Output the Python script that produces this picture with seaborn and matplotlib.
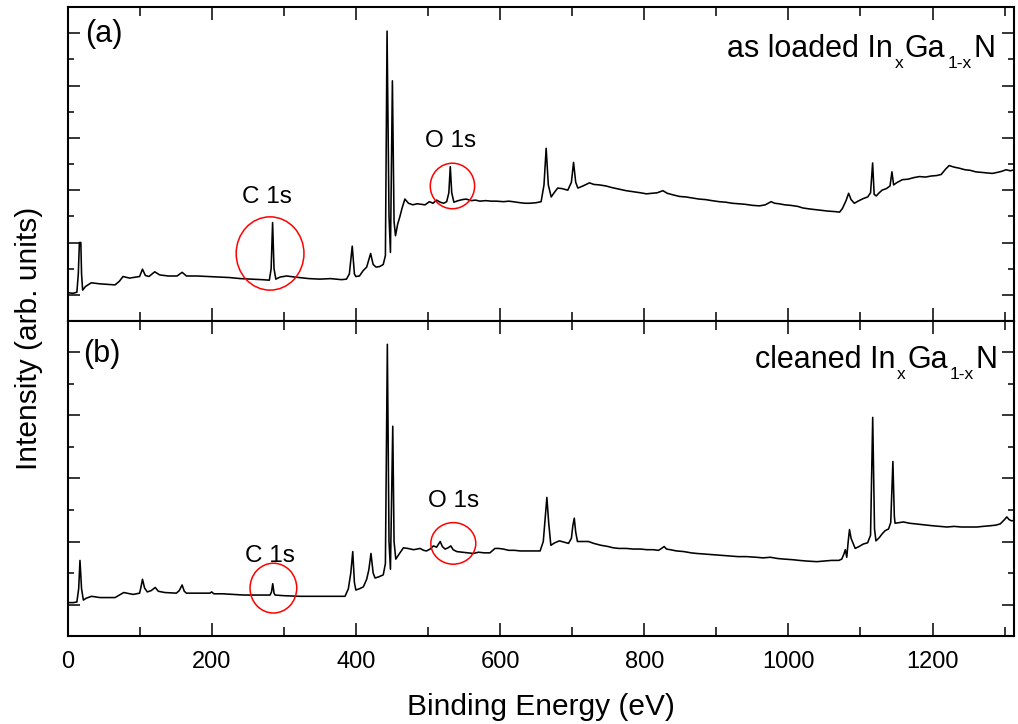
import matplotlib
matplotlib.use("Agg")
import matplotlib.pyplot as plt
import pandas as pd
import seaborn as sns
from matplotlib.patches import Ellipse
from matplotlib.ticker import MultipleLocator, NullFormatter

# ---- survey spectra (binding energy in eV, intensity in arb. units) ----
energy_a = [0, 8, 13, 15, 16.5, 18.5, 19.5, 21, 25, 33, 45, 55, 66, 72, 77, 86, 100, 104, 108, 113,
            121, 128, 140, 152, 159, 165, 180, 195, 210, 225, 240, 255, 270, 280, 282.5, 284.5, 286.5,
            289, 295, 304, 315, 322, 335, 350, 365, 380, 387, 391, 395, 398, 400, 405, 410, 415, 420.5,
            424, 428, 433, 438, 441, 443.3, 446, 448, 450.7, 453, 455, 458, 461, 464, 468, 473, 479,
            485, 490, 496, 502, 507, 512, 517, 522, 526, 529, 531, 533, 536, 542, 548, 553, 560, 566,
            572, 580, 588, 595, 605, 612, 618, 628, 635, 641, 650, 657, 661, 664, 667, 671, 675, 680,
            686, 694, 699, 702, 705, 708, 715, 724, 730, 738, 747, 755, 765, 775, 785, 795, 803, 810,
            818, 826, 832, 840, 849, 858, 867, 876, 885, 894, 904, 913, 922, 932, 940, 950, 960, 968,
            976, 981, 987, 995, 1003, 1013, 1020, 1030, 1043, 1055, 1065, 1071, 1075, 1080, 1083.6,
            1087, 1091.5, 1098, 1104, 1110, 1114, 1116.9, 1119, 1122, 1126, 1130, 1136, 1141, 1143.7,
            1146, 1150, 1158, 1166, 1174, 1182, 1190, 1198, 1206, 1212, 1218, 1223, 1230, 1237, 1245,
            1252, 1260, 1268, 1276, 1283, 1290, 1296, 1302, 1308, 1313]
intensity_a = [10.4, 10.3, 10.5, 14.0, 20.0, 20.0, 14.0, 10.9, 11.6, 12.3, 12.1, 12.0, 11.9, 12.6, 13.5,
               13.2, 13.5, 14.9, 13.7, 13.5, 14.4, 13.8, 13.6, 13.6, 14.3, 13.6, 13.6, 13.5, 13.4, 13.3,
               13.1, 13.0, 12.9, 12.8, 15.0, 23.8, 15.0, 13.0, 13.4, 13.6, 13.4, 13.3, 13.1, 13.0, 13.1,
               12.9, 13.0, 14.0, 19.3, 14.0, 13.5, 13.6, 14.6, 15.3, 17.9, 15.8, 15.3, 15.4, 15.8, 17.5,
               60.4, 25.0, 18.1, 50.9, 24.0, 21.3, 23.5, 24.9, 26.5, 28.3, 27.5, 27.2, 27.4, 27.3, 27.2,
               27.8, 27.5, 28.1, 27.7, 27.5, 27.8, 29.5, 34.5, 29.5, 27.7, 28.0, 28.2, 28.3, 28.0, 28.1,
               27.9, 28.0, 27.9, 27.9, 27.8, 27.9, 27.8, 27.6, 27.5, 27.5, 27.6, 27.8, 31.0, 38.0, 31.0,
               28.7, 29.5, 30.4, 30.3, 30.0, 31.5, 35.3, 31.5, 30.4, 30.8, 31.4, 31.1, 31.0, 30.8, 30.5,
               30.2, 29.9, 29.7, 29.5, 29.3, 29.4, 29.5, 29.9, 29.4, 29.1, 28.8, 28.7, 28.5, 28.3, 28.2,
               28.0, 27.8, 27.7, 27.5, 27.4, 27.3, 27.1, 27.0, 27.2, 27.8, 27.5, 27.4, 27.2, 27.1, 26.9,
               26.6, 26.4, 26.2, 26.0, 25.9, 25.8, 26.5, 28.0, 29.4, 28.2, 27.5, 28.0, 28.4, 28.7, 29.5,
               35.2, 29.2, 28.9, 29.5, 30.0, 30.3, 30.8, 33.5, 31.0, 31.4, 32.0, 32.1, 32.4, 32.6, 32.5,
               32.7, 32.8, 33.0, 34.0, 34.7, 34.4, 34.2, 33.9, 33.8, 33.5, 33.4, 33.3, 33.2, 33.4, 33.6,
               33.9, 33.7, 33.9]

energy_b = [0, 8, 13, 15.5, 17.3, 19.5, 22, 26, 33.5, 45, 55, 66, 72, 78, 91, 100, 102, 104, 107, 110.7,
            116, 121.7, 126, 135, 151, 155, 159, 162, 165, 180, 197.6, 200, 203, 215, 230, 245, 258,
            270, 281, 283, 284.7, 286.5, 288, 300, 322, 340, 360, 385, 389.6, 393, 395.7, 398, 400, 405,
            410.4, 415, 418, 421, 424, 426.7, 432, 438, 441, 443.7, 446, 448, 451.2, 453, 455.4, 460,
            466, 472, 480, 485, 489, 494, 498, 503, 507.6, 512, 517, 520, 523.8, 528, 531.7, 535, 540,
            548, 555, 563, 570, 578, 586, 590, 593, 598, 604.7, 612, 620, 628, 638, 648, 655.6, 660,
            662.5, 665, 667.5, 670.5, 676, 682.4, 689, 695, 699, 701, 703, 705, 707.4, 715, 722.6, 730,
            740, 750, 757, 765, 775, 785, 795, 803.7, 812, 820, 824, 827.7, 831, 836, 845, 855, 865, 873,
            885, 896, 908, 919, 930, 942, 955, 965, 975, 985, 995, 1007, 1015, 1025, 1039.5, 1050, 1060,
            1070, 1074, 1077, 1079, 1081, 1083, 1084.8, 1087, 1092.7, 1098, 1104, 1110, 1114, 1117,
            1119.5, 1121.5, 1126, 1130, 1134, 1139, 1142, 1145, 1147, 1148, 1154, 1159.7, 1168, 1176,
            1184, 1192, 1200, 1210, 1220, 1230, 1240, 1250, 1261.6, 1270, 1280, 1288, 1294, 1300, 1303,
            1306, 1309, 1313]
intensity_b = [10.3, 10.3, 10.4, 12.5, 17.0, 12.5, 10.7, 11.0, 11.3, 11.1, 11.1, 11.1, 11.5, 11.9, 11.6,
               11.8, 12.8, 14.0, 12.6, 12.0, 12.2, 12.7, 12.1, 11.9, 11.8, 12.2, 13.1, 12.1, 11.8, 11.8,
               11.8, 12.0, 11.7, 11.7, 11.6, 11.5, 11.5, 11.5, 11.5, 12.0, 13.3, 11.8, 11.5, 11.4, 11.3,
               11.3, 11.3, 11.3, 12.5, 15.0, 18.4, 13.5, 12.3, 12.5, 12.8, 14.0, 15.5, 18.1, 15.0, 14.2,
               14.4, 14.7, 16.5, 51.3, 20.0, 15.6, 38.3, 20.0, 17.2, 18.0, 19.0, 18.9, 18.7, 18.8, 18.9,
               18.6, 18.5, 18.8, 19.3, 19.1, 20.0, 19.2, 18.8, 19.0, 19.3, 18.7, 18.4, 18.3, 18.2, 18.1,
               18.3, 18.2, 18.2, 18.6, 18.9, 18.9, 18.8, 18.6, 18.6, 18.5, 18.5, 18.5, 18.5, 20.0, 23.5,
               27.0, 23.0, 19.4, 19.8, 20.1, 19.9, 19.7, 20.5, 22.5, 23.7, 21.5, 20.0, 20.0, 20.0, 19.7,
               19.4, 19.2, 19.0, 18.9, 18.9, 18.8, 18.8, 18.7, 18.7, 18.6, 18.9, 19.2, 18.8, 18.7, 18.5,
               18.4, 18.2, 18.1, 18.0, 17.9, 17.8, 17.7, 17.6, 17.6, 17.5, 17.4, 17.5, 17.3, 17.2, 17.1,
               17.0, 16.9, 16.8, 16.9, 17.0, 17.0, 17.2, 18.0, 18.7, 17.5, 20.0, 21.9, 20.5, 18.9, 19.2,
               19.6, 19.8, 21.0, 39.7, 22.0, 20.1, 20.6, 21.2, 21.7, 22.0, 23.0, 32.7, 24.0, 22.9, 23.0,
               23.1, 22.9, 22.8, 22.7, 22.6, 22.5, 22.4, 22.3, 22.4, 22.3, 22.3, 22.3, 22.4, 22.5, 22.6,
               22.8, 23.5, 23.9, 23.5, 23.3, 23.3]

panel_tags = ["(a)", "(b)"]
sample_names = ["as loaded ", "cleaned "]
peak_names = ["C 1s", "O 1s"]
x_ticks = [0, 200, 400, 600, 800, 1000, 1200]

# ---- style ----
sns.set_theme(style="ticks")
plt.rcParams.update({
    "font.family": ["Liberation Sans", "DejaVu Sans"],
    "axes.edgecolor": "black",
    "axes.linewidth": 1.5,
    "xtick.color": "black",
    "ytick.color": "black",
    "text.color": "black",
    "axes.labelcolor": "black",
    "axes.facecolor": "white",
    "figure.facecolor": "white",
})

fig = plt.figure(figsize=(10.18, 7.24), dpi=100)
W, H = 1018.0, 724.0
left, right = 67.5 / W, 1014 / W
ax_a = fig.add_axes([left, 1 - 321 / H, right - left, (321 - 7) / H])
ax_b = fig.add_axes([left, 1 - 636 / H, right - left, (636 - 321) / H], sharex=ax_a)

df_a = pd.DataFrame({"energy": energy_a, "intensity": intensity_a})
df_b = pd.DataFrame({"energy": energy_b, "intensity": intensity_b})
sns.lineplot(data=df_a, x="energy", y="intensity", ax=ax_a, color="black",
             linewidth=1.15, sort=False, estimator=None)
sns.lineplot(data=df_b, x="energy", y="intensity", ax=ax_b, color="black",
             linewidth=1.15, sort=False, estimator=None)

ax_a.set_ylim(5, 65)
ax_b.set_ylim(5, 55)
ax_a.set_xlim(0, 1313)

for ax in (ax_a, ax_b):
    ax.set_ylabel("")
    ax.xaxis.set_major_locator(MultipleLocator(200))
    ax.xaxis.set_minor_locator(MultipleLocator(100))
    ax.yaxis.set_major_locator(MultipleLocator(10))
    ax.yaxis.set_minor_locator(MultipleLocator(5))
    ax.yaxis.set_major_formatter(NullFormatter())
    ax.tick_params(axis="both", which="both", direction="in", top=True, bottom=True,
                   left=True, right=True, labelleft=False, width=1.1)
    ax.tick_params(axis="x", which="major", length=9.4)
    ax.tick_params(axis="x", which="minor", length=6.5)
    ax.tick_params(axis="y", which="major", length=8.6)
    ax.tick_params(axis="y", which="minor", length=4.3)
    for s in ax.spines.values():
        s.set_linewidth(1.5)

ax_a.tick_params(axis="x", labelbottom=False)
ax_a.set_xlabel("")
ax_b.set_xticks(x_ticks)
ax_b.tick_params(axis="x", which="major", labelsize=17, pad=10.5)
ax_b.set_xlabel("Binding Energy (eV)", fontsize=21.5, labelpad=15)

fig.text(29 / W, 1 - 338 / H, "Intensity (arb. units)", rotation=90, fontsize=21.5,
         ha="center", va="center")


def formula_label(ax, prefix, x, y, main=22, sub=12.5, drop=5.2, gap=1.2):
    """Right-aligned 'prefix In_x Ga_1-x N' built from chained text pieces."""
    t_n = ax.text(x, y, "N", transform=ax.transAxes, ha="right", va="baseline", fontsize=main)
    t_s2 = ax.annotate("1-x", xy=(0, 0), xycoords=t_n, xytext=(-gap, -drop),
                       textcoords="offset points", ha="right", va="bottom", fontsize=sub)
    t_ga = ax.annotate("Ga", xy=(0, 0), xycoords=t_s2, xytext=(-gap, drop),
                       textcoords="offset points", ha="right", va="bottom", fontsize=main)
    t_s1 = ax.annotate("x", xy=(0, 0), xycoords=t_ga, xytext=(-gap, -drop),
                       textcoords="offset points", ha="right", va="bottom", fontsize=sub)
    ax.annotate(prefix + "In", xy=(0, 0), xycoords=t_s1, xytext=(-gap, drop),
                textcoords="offset points", ha="right", va="bottom", fontsize=main)


ax_a.text(0.0185, 0.8895, panel_tags[0], transform=ax_a.transAxes, fontsize=22, va="baseline")
ax_b.text(0.0164, 0.871, panel_tags[1], transform=ax_b.transAxes, fontsize=22, va="baseline")
formula_label(ax_a, sample_names[0], 0.980, 0.841)
formula_label(ax_b, sample_names[1], 0.9826, 0.851)

# peak labels
ax_a.text(277, 27.6, peak_names[0], fontsize=17.5, ha="center", va="baseline")
ax_a.text(531, 38.3, peak_names[1], fontsize=17.5, ha="center", va="baseline")
ax_b.text(281.5, 16.7, peak_names[0], fontsize=17.5, ha="center", va="baseline")
ax_b.text(535.5, 25.4, peak_names[1], fontsize=17.5, ha="center", va="baseline")

# red rings marking the C 1s and O 1s regions
rings = [
    (ax_a, (281, 17.9), 94, 14.0),
    (ax_a, (534, 30.8), 61.5, 8.7),
    (ax_b, (285.6, 12.6), 64.8, 7.9),
    (ax_b, (535.2, 19.7), 62.4, 6.6),
]
for ax, center, w, h in rings:
    ax.add_patch(Ellipse(center, w, h, fill=False, edgecolor="red", linewidth=1.1, zorder=5))

fig.savefig("out.png", dpi=100)
